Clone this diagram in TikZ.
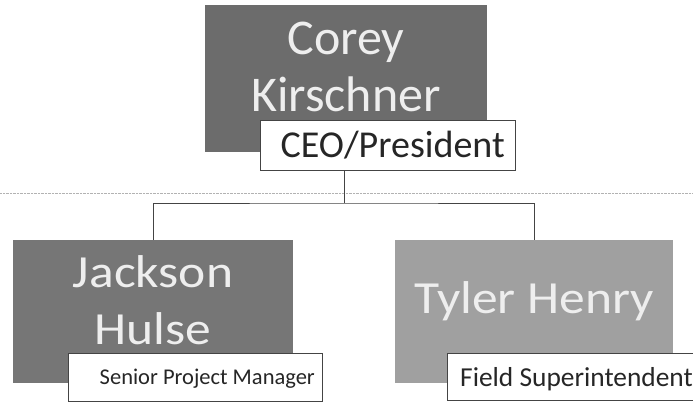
\documentclass[tikz,border=0pt]{standalone}
\usepackage{graphicx}
\usepackage{fontspec}
\setmainfont{Carlito}
\usetikzlibrary{positioning,shadows}

\definecolor{ceogray}{HTML}{6C6C6C}
\definecolor{pmgray}{HTML}{767676}
\definecolor{fieldgray}{HTML}{A0A0A0}
\definecolor{namewhite}{HTML}{EEEEEE}
\definecolor{linegray}{HTML}{444444}
\newcommand{\widename}[1]{\scalebox{1.12}[1]{#1}}

\begin{document}
\begin{tikzpicture}[x=1pt,y=-1pt,
  namebox/.style={draw=none,inner sep=0pt,outer sep=0pt,anchor=north west},
  nametext/.style={text=namewhite,inner sep=0pt,align=center},
  rolebox/.style={draw=linegray,line width=0.9pt,fill=white,inner sep=0pt,outer sep=0pt,
    anchor=north west,drop shadow={shadow xshift=1.2pt,shadow yshift=-1.2pt,opacity=0.35}},
  roletext/.style={text=black!85,inner sep=0pt},
  orgline/.style={draw=linegray,line width=1pt}]
\useasboundingbox (0,0) rectangle (693,402);
\draw[densely dotted,black!30] (0,193) -- (693,193);

% top
\node[namebox,fill=ceogray,minimum width=282,minimum height=147] (corey) at (205,5) {};
\node[nametext,anchor=south,font=\fontsize{50}{57}\selectfont] (coreytxt) at (346,112) {Corey\\Kirschner};
\node[rolebox,minimum width=255,minimum height=50] (ceo) at (260,120) {};
\node[roletext,anchor=base east,font=\fontsize{38}{44}\selectfont] (ceotxt) at (505,157) {CEO/President};

% left
\node[namebox,fill=pmgray,minimum width=280,minimum height=143] (jackson) at (13,240) {};
\node[nametext,anchor=south,font=\fontsize{46}{57}\selectfont] (jacksontxt) at (153,345) {\widename{Jackson}\\\widename{Hulse}};
\node[rolebox,minimum width=254,minimum height=48] (senior) at (68,353) {};
\node[roletext,anchor=base east,font=\fontsize{22.5}{26}\selectfont] (seniortxt) at (315,384) {Senior Project Manager};

% right
\node[namebox,fill=fieldgray,minimum width=278,minimum height=143] (tyler) at (395,240) {};
\node[nametext,anchor=base,font=\fontsize{46}{57}\selectfont] (tylertxt) at (534,313) {\widename{Tyler Henry}};
\node[rolebox,minimum width=260,minimum height=47] (field) at (447,353) {};
\node[roletext,anchor=base west,font=\fontsize{27.4}{32}\selectfont] (fieldtxt) at (460,386) {Field Superintendent};

% connectors
\coordinate (split) at (344,203);
\draw[orgline] (ceo.south -| split) -- (split);
\draw[orgline] (jackson.north) |- (split) -| (tyler.north);
\end{tikzpicture}
\end{document}
